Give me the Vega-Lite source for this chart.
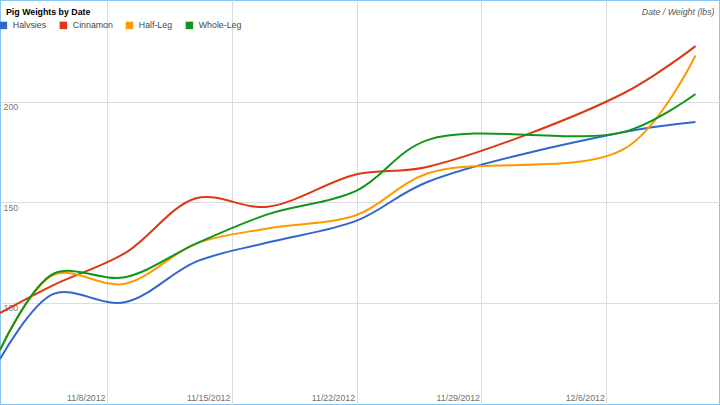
{
  "$schema": "https://vega.github.io/schema/vega-lite/v6.json",
  "autosize": {"type": "fit", "contains": "padding"},
  "width": 720,
  "height": 405,
  "padding": 0,
  "background": "white",
  "config": {
    "view": {"stroke": "#86c5f4", "strokeWidth": 2},
    "font": "Liberation Sans"
  },
  "data": {
    "values": [
      {"date": "2012-11-02", "pig": "Halvsies", "weight": 72.1},
      {"date": "2012-11-05", "pig": "Halvsies", "weight": 104.5},
      {"date": "2012-11-09", "pig": "Halvsies", "weight": 100.3},
      {"date": "2012-11-13", "pig": "Halvsies", "weight": 120.5},
      {"date": "2012-11-17", "pig": "Halvsies", "weight": 130.0},
      {"date": "2012-11-22", "pig": "Halvsies", "weight": 140.9},
      {"date": "2012-11-26", "pig": "Halvsies", "weight": 160.2},
      {"date": "2012-12-07", "pig": "Halvsies", "weight": 184.9},
      {"date": "2012-12-11", "pig": "Halvsies", "weight": 189.9},
      {"date": "2012-11-02", "pig": "Cinnamon", "weight": 95.0},
      {"date": "2012-11-05", "pig": "Cinnamon", "weight": 108.9},
      {"date": "2012-11-09", "pig": "Cinnamon", "weight": 124.7},
      {"date": "2012-11-13", "pig": "Cinnamon", "weight": 152.0},
      {"date": "2012-11-17", "pig": "Cinnamon", "weight": 147.8},
      {"date": "2012-11-22", "pig": "Cinnamon", "weight": 163.9},
      {"date": "2012-11-26", "pig": "Cinnamon", "weight": 167.7},
      {"date": "2012-12-07", "pig": "Cinnamon", "weight": 204.3},
      {"date": "2012-12-11", "pig": "Cinnamon", "weight": 227.6},
      {"date": "2012-11-02", "pig": "Half-Leg", "weight": 76.6},
      {"date": "2012-11-05", "pig": "Half-Leg", "weight": 114.0},
      {"date": "2012-11-09", "pig": "Half-Leg", "weight": 109.5},
      {"date": "2012-11-13", "pig": "Half-Leg", "weight": 129.5},
      {"date": "2012-11-17", "pig": "Half-Leg", "weight": 137.0},
      {"date": "2012-11-22", "pig": "Half-Leg", "weight": 143.7},
      {"date": "2012-11-26", "pig": "Half-Leg", "weight": 164.4},
      {"date": "2012-12-07", "pig": "Half-Leg", "weight": 176.5},
      {"date": "2012-12-11", "pig": "Half-Leg", "weight": 222.9},
      {"date": "2012-11-02", "pig": "Whole-Leg", "weight": 76.6},
      {"date": "2012-11-05", "pig": "Whole-Leg", "weight": 114.5},
      {"date": "2012-11-09", "pig": "Whole-Leg", "weight": 112.8},
      {"date": "2012-11-13", "pig": "Whole-Leg", "weight": 129.5},
      {"date": "2012-11-17", "pig": "Whole-Leg", "weight": 144.0},
      {"date": "2012-11-22", "pig": "Whole-Leg", "weight": 155.8},
      {"date": "2012-11-26", "pig": "Whole-Leg", "weight": 181.0},
      {"date": "2012-12-07", "pig": "Whole-Leg", "weight": 185.0},
      {"date": "2012-12-11", "pig": "Whole-Leg", "weight": 203.8}
    ]
  },
  "mark": {"type": "line", "interpolate": "catmull-rom", "strokeWidth": 2, "clip": true},
  "encoding": {
    "x": {
      "field": "date",
      "type": "temporal",
      "scale": {
        "type": "utc",
        "domain": [
          {"year": 2012, "month": 11, "date": 2, "utc": true},
          {"year": 2012, "month": 12, "date": 12, "hours": 9, "utc": true}
        ]
      },
      "axis": {
        "values": [
          {"year": 2012, "month": 11, "date": 8, "utc": true},
          {"year": 2012, "month": 11, "date": 15, "utc": true},
          {"year": 2012, "month": 11, "date": 22, "utc": true},
          {"year": 2012, "month": 11, "date": 29, "utc": true},
          {"year": 2012, "month": 12, "date": 6, "utc": true}
        ],
        "format": "%-m/%-d/%Y",
        "domain": false,
        "ticks": false,
        "tickSize": 0,
        "grid": true,
        "gridColor": "#dcdcdc",
        "gridWidth": 1,
        "labelAlign": "right",
        "labelBaseline": "alphabetic",
        "labelPadding": -4.5,
        "labelOffset": -2,
        "labelFontSize": 8.8,
        "labelColor": "#6f6f6f",
        "labelOverlap": false,
        "labelFlush": false,
        "labelBound": false,
        "title": "Date / Weight (lbs)",
        "titleX": 714,
        "titleY": -390.5,
        "titleAlign": "right",
        "titleAnchor": null,
        "titleBaseline": "alphabetic",
        "titleFontStyle": "italic",
        "titleFontWeight": "normal",
        "titleFontSize": 8.8,
        "titleColor": "#555555"
      }
    },
    "y": {
      "field": "weight",
      "type": "quantitative",
      "scale": {"domain": [49.3, 250.5], "nice": false, "zero": false},
      "axis": {
        "values": [100, 150, 200],
        "domain": false,
        "ticks": false,
        "tickSize": 0,
        "grid": true,
        "gridColor": "#dcdcdc",
        "gridWidth": 1,
        "labelAlign": "left",
        "labelBaseline": "top",
        "labelPadding": -3,
        "labelOffset": 1,
        "labelFontSize": 8.8,
        "labelColor": "#777777",
        "labelOverlap": false,
        "labelFlush": false,
        "labelBound": false,
        "title": "Pig Weights by Date",
        "titleX": 5.5,
        "titleY": 14.3,
        "titleAngle": 0,
        "titleAlign": "left",
        "titleAnchor": null,
        "titleBaseline": "alphabetic",
        "titleFontWeight": "bold",
        "titleFontSize": 8.8,
        "titleColor": "#000000"
      }
    },
    "color": {
      "field": "pig",
      "type": "nominal",
      "sort": ["Halvsies", "Cinnamon", "Half-Leg", "Whole-Leg"],
      "scale": {
        "domain": ["Halvsies", "Cinnamon", "Half-Leg", "Whole-Leg"],
        "range": ["#3366cc", "#dc3912", "#ff9900", "#109618"]
      },
      "legend": {
        "orient": "none",
        "legendX": -1,
        "legendY": 20.6,
        "direction": "horizontal",
        "title": null,
        "padding": 0,
        "symbolType": "square",
        "symbolSize": 56,
        "symbolStrokeWidth": 0,
        "symbolOpacity": 1,
        "labelFontSize": 8.8,
        "labelColor": "#444444",
        "labelOffset": 5,
        "columnPadding": 12,
        "encode": {
          "symbols": {
            "update": {
              "fill": {"scale": "color", "field": "value"},
              "stroke": {"value": "transparent"},
              "opacity": {"value": 1}
            }
          }
        }
      }
    }
  }
}
